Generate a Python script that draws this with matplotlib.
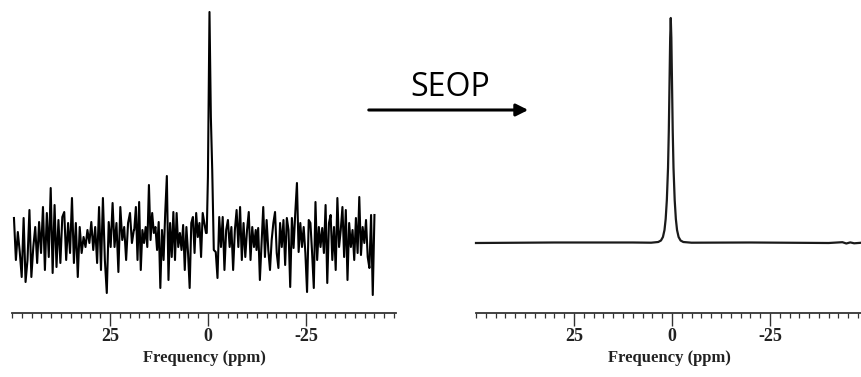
import numpy as np
import matplotlib
matplotlib.use("Agg")
import matplotlib.pyplot as plt
from matplotlib.ticker import FixedLocator, FixedFormatter, MultipleLocator

# ---------------- data ----------------
# Left: thermal spectrum (noisy), intensities in arbitrary units (baseline = 0)
seg1_ppm = (49.5, 18.9)
seg1_int = [19, -23, 5, -15, -40, 19, -45, -23, 27, -40, -10, 10, -26, 15, -16, 30, -33, 24, -20, 49,
            -36, 32, -30, 17, -26, 20, 25, -23, 14, -16, 39, -26, 14, -40, 10, -16, 0, -10, 7, -6,
            15, -13, 10, -26, 30, -33, 39, -23, -56, 15, -10, 34, -10, 14, -35, 30, -3, 10, -23, 14,
            24, -6, 7]
seg2_ppm = (18.8, 0.5)
seg2_int = [7, 30, -23, 35, -33, 7, -6, 10, -10, 52, -3, 24, 4, 10, -13, 15, -51, 7, -23, 24,
            61, -43, 14, -20, 25, -23, 24, -10, 4, -13, 12, -33, 10, -16, -51, 14, 20, -16, 24, 0,
            14, -20, 24, 14, 4]
peak_ppm = [0.3, 0.0, -0.4, -0.75, -1.1, -1.5]
peak_int = [4, 60, 225, 120, 67, -13]
seg3_ppm = (-2.0, -12.2)
seg3_int = [-15, -41, 20, -10, 20, -33, 7, 17, -10, 10, -33, 7, 27, -10, 30, -23, 14, -20, 7, 25,
            -23, 10, -10, 7]
seg4_ppm = (-12.4, -42.5)
seg4_int = [-13, 9, -43, -6, 30, -20, 17, -13, -33, -3, 14, 25, -16, -31, 14, -10, 17, -28, 19, 7,
            -50, 19, -11, 24, 54, -15, 14, -10, 10, -16, -55, 17, 14, -16, -51, 35, -23, 10, -10, 9,
            -16, 32, -46, 14, 22, -23, 10, -33, 39, -10, 7, 30, -20, 27, -43, 14, -10, 7, -23, 19,
            -16, 40, -18, 10, -6, 17, -20, -31, 22, -58, 22]

# Right: hyperpolarized (SEOP) spectrum
hp_ppm = [50.0, 30.0, 10.0, 5.3, 3.5, 2.8, 2.3, 1.9, 1.6, 1.3, 1.0, 0.8, 0.6, 0.45, 0.3, 0.15, 0.0,
          -0.2, -0.4, -0.7, -1.0, -1.3, -1.7, -2.2, -2.9, -5.0, -20.0, -40.0, -43.5, -44.5, -45.5,
          -46.5, -48.5]
hp_int = [0.0, 0.5, 0.5, 0.3, 1.0, 2.5, 6, 13, 24, 43, 75, 112, 165, 205, 225, 205, 165,
          112, 75, 43, 24, 13, 6, 2.5, 1.0, 0.3, 0.5, 0.0, 0.8, -0.5, 0.6, -0.3, 0.3]

major_ticks = [25, 0, -25]
major_labels = ["25", "0", "-25"]
xlabel = "Frequency (ppm)"
arrow_label = "SEOP"

# ---------------- build series ----------------
def seg(bounds, vals):
    return np.linspace(bounds[0], bounds[1], len(vals)), np.asarray(vals, float)

parts = [seg(seg1_ppm, seg1_int), seg(seg2_ppm, seg2_int),
         (np.asarray(peak_ppm, float), np.asarray(peak_int, float)),
         seg(seg3_ppm, seg3_int), seg(seg4_ppm, seg4_int)]
left_x = np.concatenate([p[0] for p in parts])
left_y = np.concatenate([p[1] for p in parts])

# ---------------- figure ----------------
W, H = 862, 377
fig = plt.figure(figsize=(W / 100, H / 100), dpi=100)
fig.patch.set_facecolor("white")

def px_axes(x0, x1, y_top, y_bot):
    return fig.add_axes([x0 / W, 1 - y_bot / H, (x1 - x0) / W, (y_bot - y_top) / H])

ax1 = px_axes(12, 396, 0, 313)
ax2 = px_axes(476, 862, 0, 313)

ax1.plot(left_x, left_y, color="black", lw=1.5, clip_on=False)
ax1.set_xlim(50, -48)
ax1.set_ylim(-76, 237)

ax2.plot(hp_ppm, hp_int, color="#1a1a1a", lw=1.6, clip_on=False)
ax2.set_xlim(50, -48.5)
ax2.set_ylim(-70, 243)

serif = ["Liberation Serif", "DejaVu Serif"]
for ax in (ax1, ax2):
    ax.set_facecolor("none")
    for s in ("left", "right", "top"):
        ax.spines[s].set_visible(False)
    ax.spines["bottom"].set_linewidth(1.3)
    ax.spines["bottom"].set_color("#333333")
    ax.set_yticks([])
    ax.xaxis.set_major_locator(FixedLocator(major_ticks))
    ax.xaxis.set_major_formatter(FixedFormatter(major_labels))
    ax.xaxis.set_minor_locator(MultipleLocator(2.5))
    ax.tick_params(axis="x", which="major", direction="out", length=9, width=1.0, pad=1.5,
                   labelsize=13, color="#333333")
    ax.tick_params(axis="x", which="minor", direction="out", length=3.5, width=0.9,
                   color="#333333")
    for lab in ax.get_xticklabels():
        lab.set_fontfamily(serif)
        lab.set_fontweight("bold")
        lab.set_color("#222222")
    ax.set_xlabel(xlabel, fontfamily=serif, fontweight="bold", fontsize=12, labelpad=4,
                  color="#222222")

# SEOP arrow
fig.text(450 / W, 1 - 88 / H, arrow_label, ha="center", va="center", fontsize=23,
         family=["Open Sans", "DejaVu Sans"])
fig.add_artist(matplotlib.patches.FancyArrowPatch(
    (366 / W, 1 - 110 / H), (531 / W, 1 - 110 / H), transform=fig.transFigure,
    arrowstyle="-|>", mutation_scale=18, lw=2.2, color="black"))

fig.savefig("out.png", dpi=100, facecolor="white")
